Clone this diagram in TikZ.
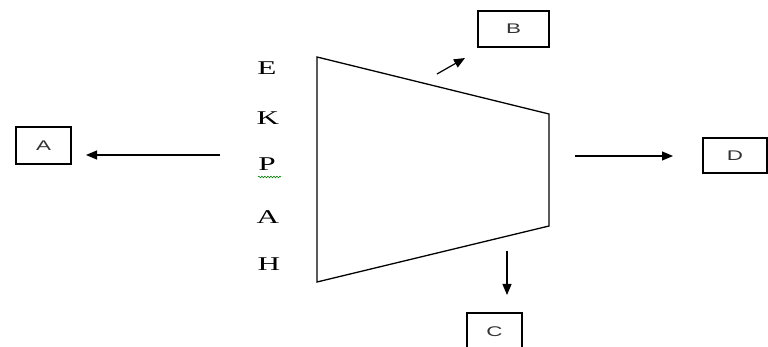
\documentclass[tikz,border=0pt]{standalone}
\usepackage{fontspec}
\setmainfont{Liberation Serif}
\newfontfamily\boxfont{Liberation Sans}
\usetikzlibrary{arrows.meta,decorations.pathmorphing}
\newcommand\mywide[1]{\scalebox{1.6}[1]{#1}}
\begin{document}
\begin{tikzpicture}[x=1pt,y=-1pt,
  lbox/.style={draw, line width=1.3pt, inner sep=0pt, font=\boxfont\fontsize{14}{14}\selectfont, text=black!80},
  side/.style={font=\fontsize{19.5}{20}\selectfont, inner sep=0pt, anchor=base, text=black},
  arr/.style={line width=1.2pt, -{Triangle[length=11pt,width=9pt]}}]
\useasboundingbox (0,0) rectangle (768,347);
\clip (0,0) rectangle (768,347);
\fill[white] (0,0) rectangle (768,347);
% trapezoid
\draw[line width=1.3pt, line join=miter] (317,57) -- (549,114) -- (549,226) -- (317,282) -- cycle;
% boxes
\node[lbox, minimum width=55pt, minimum height=37pt] (A) at (43.5,145.5) {\mywide{A}};
\node[lbox, minimum width=71pt, minimum height=36pt] (B) at (513.5,29) {\mywide{B}};
\node[lbox, minimum width=64pt, minimum height=35pt] (D) at (735,155.5) {\mywide{D}};
\node[lbox, minimum width=55pt, minimum height=37pt] (C) at (494.5,331.5) {\mywide{C}};
% side letters
\node[side] (tE) at (267,75) {\mywide{E}};
\node[side] (tK) at (268,125) {\mywide{K}};
\node[side] (tP) at (267,171) {\mywide{P}};
\node[side] (tA) at (268,224) {\mywide{A}};
\node[side] (tH) at (269,271) {\mywide{H}};
\draw[green!50!black, line width=0.6pt, decoration={snake, amplitude=0.8pt, segment length=3pt}, decorate] (258,177) -- (281,177);
% arrows
\coordinate (a1) at (220,155);
\coordinate (a2) at (86,155);
\draw[arr] (a1) -- (a2);
\coordinate (b1) at (437,74);
\coordinate (b2) at (465,58);
\draw[arr] (b1) -- (b2);
\coordinate (d1) at (575,156);
\coordinate (d2) at (673,156);
\draw[arr] (d1) -- (d2);
\coordinate (c1) at (507,251);
\coordinate (c2) at (507,295);
\draw[arr] (c1) -- (c2);
\end{tikzpicture}
\end{document}
